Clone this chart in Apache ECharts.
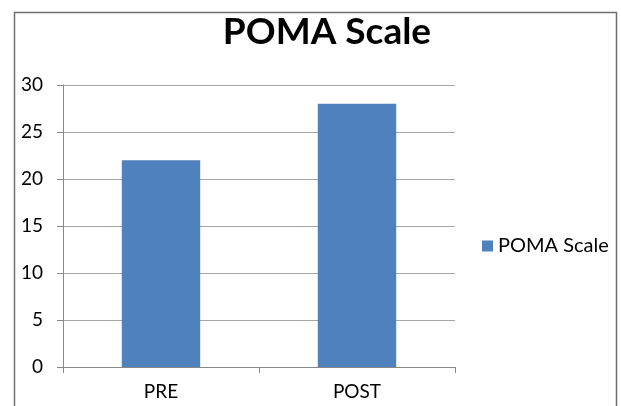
<!DOCTYPE html>
<html><head><meta charset="utf-8">
<script src="https://cdn.jsdelivr.net/npm/echarts@6/dist/echarts.min.js"></script>
<style>html,body{margin:0;padding:0;background:#fff}#c{width:621px;height:406px}</style>
</head><body><div id="c"></div>
<script>
const categories = ['PRE', 'POST'];
const seriesName = 'POMA Scale';
const values = [22, 28];
const yTicks = [0, 5, 10, 15, 20, 25, 30];

const chart = echarts.init(document.getElementById('c'), null, {renderer: 'canvas'});
chart.setOption({
  animation: false,
  backgroundColor: '#fff',
  title: {
    text: 'POMA Scale', left: 322, top: 9, textAlign: 'center',
    textStyle: {fontFamily: 'Lato', fontWeight: 'bold', fontSize: 37, color: '#000'}
  },
  graphic: [{
    type: 'rect', left: 12, top: 10, shape: {width: 602, height: 420},
    style: {fill: 'none', stroke: '#6f6f6f', lineWidth: 1.5}, silent: true
  }],
  legend: {
    left: 477, top: 231, itemWidth: 11, itemHeight: 11, itemGap: 8,
    icon: 'rect',
    textStyle: {fontFamily: 'Lato', fontSize: 20, color: '#000', padding: [0, 0, 0, 0]},
    data: [seriesName]
  },
  grid: {left: 63, right: 166, top: 85, bottom: 39, containLabel: false},
  xAxis: {
    type: 'category', data: categories,
    axisLine: {lineStyle: {color: '#888', width: 1}},
    axisTick: {show: true, length: 6, lineStyle: {color: '#888'}},
    axisLabel: {fontFamily: 'Lato', fontSize: 19, color: '#000', margin: 15}
  },
  yAxis: {
    type: 'value', min: yTicks[0], max: yTicks[yTicks.length - 1], interval: 5,
    axisLine: {show: true, lineStyle: {color: '#888', width: 1}},
    axisTick: {show: true, length: 6, lineStyle: {color: '#888'}},
    splitLine: {lineStyle: {color: '#a6a6a6', width: 1}},
    axisLabel: {fontFamily: 'Lato', fontSize: 19, color: '#000', margin: 20}
  },
  series: [{
    name: seriesName, type: 'bar', data: values, barWidth: '40%',
    itemStyle: {color: '#4f81bd'}
  }]
});
</script></body></html>
